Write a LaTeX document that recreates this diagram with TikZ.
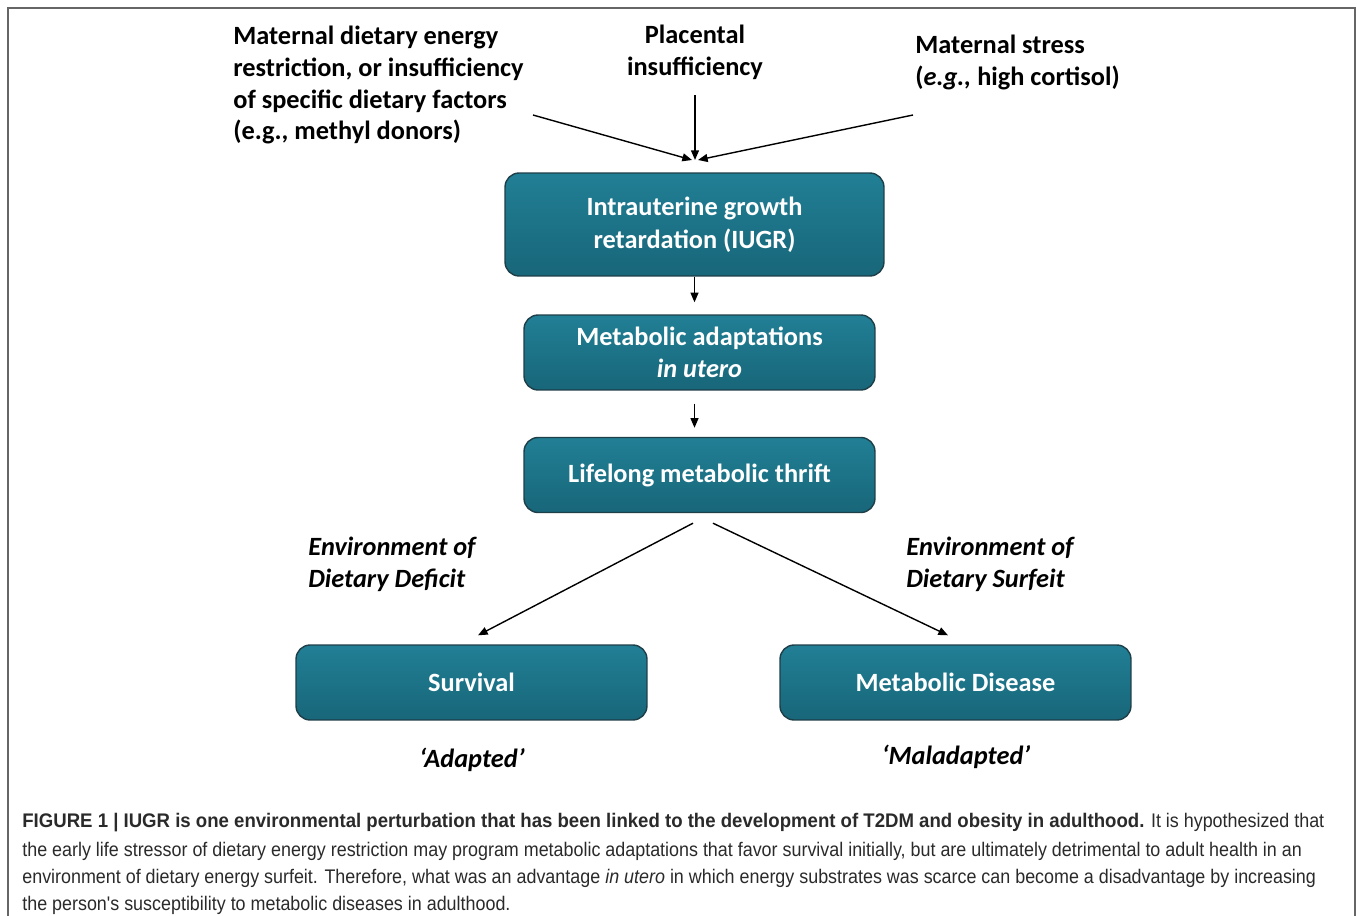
\documentclass[tikz,border=0pt]{standalone}
\usepackage{fontspec}
\setmainfont{Carlito}
\newfontfamily\capfont[FakeStretch=0.91]{Liberation Sans}
\newfontfamily\capboldfont[FakeStretch=0.945]{Liberation Sans}
\usetikzlibrary{arrows.meta}
\definecolor{tealtop}{HTML}{217F95}
\definecolor{tealmid}{HTML}{539FB1}
\definecolor{tealbot}{HTML}{186679}
\definecolor{boxedge}{HTML}{1E3E48}
\definecolor{captext}{HTML}{2A2A2A}

\begin{document}
\begin{tikzpicture}[x=0.02cm,y=-0.02cm,
	box/.style={draw=boxedge,line width=0.8pt,rounded corners=8pt,top color=tealtop,middle color=tealmid,bottom color=tealbot,text=white,font=\fontsize{15}{18.5}\selectfont\bfseries,align=center,inner sep=0pt,minimum width=7.02cm,minimum height=1.5cm},
	lbl/.style={font=\fontsize{15}{18.2}\selectfont\bfseries,inner sep=0pt},
	capline/.style={font=\capfont\fontsize{11.2}{13}\selectfont,text=captext,anchor=west,inner sep=0pt},
	arr/.style={-{Triangle[length=5.5pt,width=4.5pt]},line width=0.8pt}]
	\useasboundingbox (0,0) rectangle (1357,916);
	\draw[black!60,line width=1.2pt] (8,916) -- (8,8) -- (1355,8) -- (1355,916);

	\node[box,minimum width=7.58cm,minimum height=2.06cm] (iugr) at (694.5,224.5) {Intrauterine growth\\retardation (IUGR)};
	\node[box] (adapt) at (699.5,352.5) {Metabolic adaptations\\\textit{in utero}};
	\node[box] (thrift) at (699.5,475) {Lifelong metabolic thrift};
	\node[box] (survival) at (471.5,682.5) {Survival};
	\node[box] (disease) at (955.5,682.5) {Metabolic Disease};

	\node[lbl,align=left,anchor=west] (diet) at (233,85) {Maternal dietary energy\\restriction, or insufficiency\\of specific dietary factors\\(e.g., methyl donors)};
	\node[lbl,align=center] (placenta) at (695,52) {Placental\\insufficiency};
	\node[lbl,align=left,anchor=west] (stress) at (915,62) {Maternal stress\\(\textit{e.g.,} high cortisol)};

	\node[lbl,align=left,anchor=west] (deficit) at (308,564) {\itshape Environment of\\\itshape Dietary Deficit};
	\node[lbl,align=left,anchor=west] (surfeit) at (906,564) {\itshape Environment of\\\itshape Dietary Surfeit};
	\node[lbl] (adapted) at (472,760) {\itshape `Adapted'};
	\node[lbl] (maladapted) at (956,757) {\itshape `Maladapted'};

	\coordinate (meet) at (695,160);
	\coordinate (dietend) at (533,115);
	\coordinate (placend) at (695,95);
	\coordinate (stressend) at (913,115);
	\draw[arr] (dietend) -- ([xshift=-0.06cm]meet);
	\draw[arr] (placend) -- (meet);
	\draw[arr] (stressend) -- ([xshift=0.06cm]meet);

	\draw[arr,shorten >=0.24cm] (iugr.south) -- (iugr.south |- adapt.north);
	\draw[arr,shorten <=0.26cm,shorten >=0.18cm] (iugr.south |- adapt.south) -- (iugr.south |- thrift.north);
	\draw[arr] ([shift={(-6.5,10)}]thrift.south) -- ([shift={(6.5,-9)}]survival.north);
	\draw[arr] ([shift={(13.5,10)}]thrift.south) -- ([shift={(-7.5,-9)}]disease.north);

	\node[capline] (cap1) at (22,823) {{\capboldfont\bfseries FIGURE 1 | IUGR is one environmental perturbation that has been linked to the development of T2DM and obesity in adulthood.} It is hypothesized that};
	\node[capline] (cap2) at (22,851) {the early life stressor of dietary energy restriction may program metabolic adaptations that favor survival initially, but are ultimately detrimental to adult health in an};
	\node[capline] (cap3) at (22,878) {environment of dietary energy surfeit. Therefore, what was an advantage \textit{in utero} in which energy substrates was scarce can become a disadvantage by increasing};
	\node[capline] (cap4) at (22,905) {the person's susceptibility to metabolic diseases in adulthood.};
\end{tikzpicture}
\end{document}
